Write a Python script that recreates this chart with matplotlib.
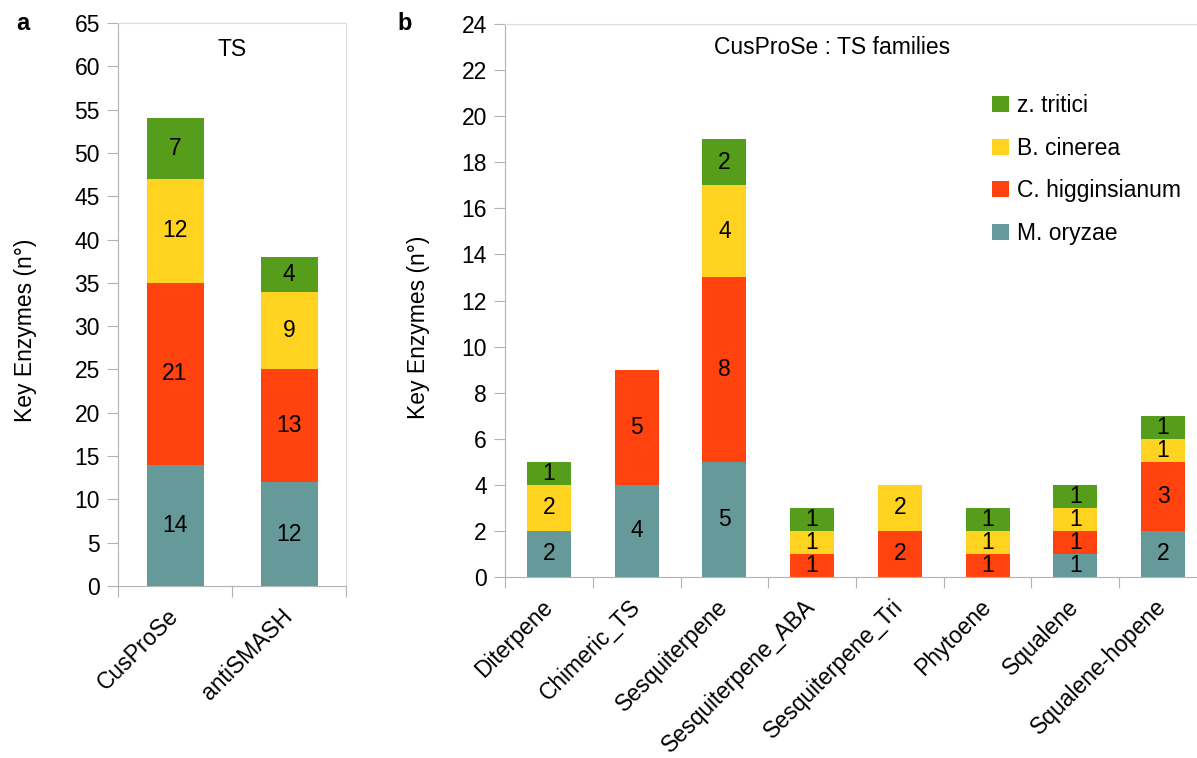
import numpy as np
import matplotlib
matplotlib.use("Agg")
import matplotlib.pyplot as plt

plt.rcParams['font.family'] = ['Liberation Sans', 'DejaVu Sans']
plt.rcParams['font.size'] = 16.5

# panel a
tools = ["CusProSe", "antiSMASH"]
a_oryzae = [14, 12]
a_higg = [21, 13]
a_cinerea = [12, 9]
a_tritici = [7, 4]

# panel b
families = ["Diterpene", "Chimeric_TS", "Sesquiterpene", "Sesquiterpene_ABA",
            "Sesquiterpene_Tri", "Phytoene", "Squalene", "Squalene-hopene"]
b_oryzae = [2, 4, 5, 0, 0, 0, 1, 2]
b_higg = [0, 5, 8, 1, 2, 1, 1, 3]
b_cinerea = [2, 0, 4, 1, 2, 1, 1, 1]
b_tritici = [1, 0, 2, 1, 0, 1, 1, 1]

species = ["M. oryzae", "C. higginsianum", "B. cinerea", "z. tritici"]
colors = ["#669999", "#ff420e", "#ffd320", "#579d1c"]

fig = plt.figure(figsize=(11.97, 7.58), dpi=100)
W, H = 1197, 758


def stacked(ax, cats, series, ymax, ystep):
    x = np.arange(len(cats))
    bottom = np.zeros(len(cats))
    bars = []
    for vals, col, name in zip(series, colors, species):
        vals = np.array(vals, dtype=float)
        b = ax.bar(x, vals, 0.5, bottom=bottom, color=col, label=name)
        bars.append(b)
        for xi, v, b0 in zip(x, vals, bottom):
            if v > 0:
                ax.text(xi, b0 + v / 2, "%d" % v, ha="center", va="center")
        bottom += vals
    ax.set_xlim(-0.5, len(cats) - 0.5)
    ax.set_ylim(0, ymax)
    ax.set_yticks(np.arange(0, ymax + 0.1, ystep))
    ax.set_xticks(np.arange(len(cats) + 1) - 0.5)
    ax.set_xticklabels([])
    ax.set_xticks(x, minor=True)
    ax.set_xticklabels(cats, minor=True, rotation=45, ha="right", va="center",
                       rotation_mode="anchor")
    ax.tick_params(axis="x", which="minor", length=0, pad=19)
    ax.tick_params(axis="x", which="major", length=8, color="#b3b3b3",
                   direction="out")
    ax.tick_params(axis="y", length=8, color="#b3b3b3", direction="out",
                   pad=5)
    for s in ["left", "bottom"]:
        ax.spines[s].set_color("#b3b3b3")
    for s in ["top", "right"]:
        ax.spines[s].set_color("#dddddd")
    ax.set_ylabel("Key Enzymes (n°)")
    return bars


ax1 = fig.add_axes([118 / W, 1 - 586 / H, (346 - 118) / W, (586 - 23) / H])
stacked(ax1, tools, [a_oryzae, a_higg, a_cinerea, a_tritici], 65, 5)
ax1.text(0.5, 1 - (49 - 23) / (586 - 23), "TS", transform=ax1.transAxes,
         ha="center", va="center")
ax1.yaxis.set_label_coords((37 - 118) / (346 - 118), 0.455)

ax2 = fig.add_axes([505 / W, 1 - 577 / H, (1207 - 505) / W, (577 - 24) / H])
bars = stacked(ax2, families, [b_oryzae, b_higg, b_cinerea, b_tritici], 24, 2)
ax2.text((832 - 505) / (1207 - 505), 1 - (48 - 24) / (577 - 24),
         "CusProSe : TS families", transform=ax2.transAxes,
         ha="center", va="center")
ax2.yaxis.set_label_coords((430 - 505) / (1207 - 505), 0.452)
ax2.legend(bars[::-1], species[::-1], loc="upper left",
           bbox_to_anchor=(981 / W, 1 - 83 / H), bbox_transform=fig.transFigure,
           frameon=False, borderpad=0, handlelength=0.7, handleheight=0.7,
           handletextpad=0.35, labelspacing=0.85)

fig.text(23 / W, 1 - 24 / H, "a", fontweight="bold", ha="center", va="center",
         fontsize=17)
fig.text(405 / W, 1 - 24 / H, "b", fontweight="bold", ha="center", va="center",
         fontsize=17)

fig.savefig("out.png", dpi=100)
